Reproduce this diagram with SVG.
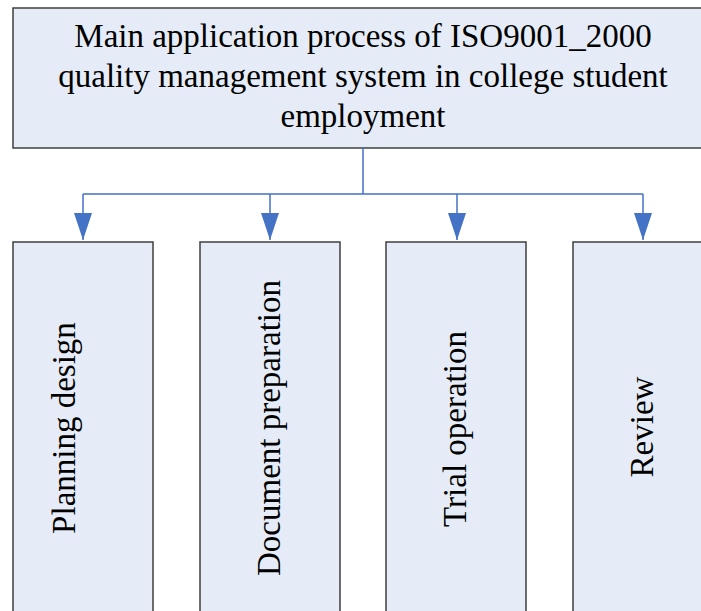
<svg xmlns="http://www.w3.org/2000/svg" width="701" height="611" viewBox="0 0 701 611">
<style>
.box{fill:#E6ECF7;stroke:#3F3F3F;stroke-width:1.5}
.t{font-family:"Liberation Serif","Times New Roman",serif;font-size:33px;fill:#000;text-anchor:middle}
.c{fill:none;stroke:#4472C4;stroke-width:1.5}
</style>
<defs>
<marker id="ah" markerUnits="userSpaceOnUse" markerWidth="27" markerHeight="18" refX="27" refY="0" orient="auto" viewBox="0 -9 27 18">
<path d="M0,-9 L27,0 L0,9 Z" fill="#4472C4"/>
</marker>
</defs>
<rect width="701" height="611" fill="#fff"/>
<g id="top">
<rect class="box" x="13" y="8" width="700" height="140"/>
<text class="t" x="363" y="47">Main application process of ISO9001_2000</text>
<text class="t" x="363" y="87">quality management system in college student</text>
<text class="t" x="363" y="127">employment</text>
</g>
<g id="connectors">
<path class="c" d="M363,148 V194 M83,194 H643"/>
<path class="c" d="M83,194 V240" marker-end="url(#ah)"/>
<path class="c" d="M270,194 V240" marker-end="url(#ah)"/>
<path class="c" d="M457,194 V240" marker-end="url(#ah)"/>
<path class="c" d="M643,194 V240" marker-end="url(#ah)"/>
</g>
<g id="n1">
<rect class="box" x="13" y="242" width="140" height="400"/>
<text class="t" transform="translate(75,428) rotate(-90)">Planning design</text>
</g>
<g id="n2">
<rect class="box" x="200" y="242" width="140" height="400"/>
<text class="t" transform="translate(280,428) rotate(-90)">Document preparation</text>
</g>
<g id="n3">
<rect class="box" x="386" y="242" width="140" height="400"/>
<text class="t" transform="translate(466,429) rotate(-90)">Trial operation</text>
</g>
<g id="n4">
<rect class="box" x="573" y="242" width="140" height="400"/>
<text class="t" transform="translate(653,427) rotate(-90)">Review</text>
</g>
</svg>
